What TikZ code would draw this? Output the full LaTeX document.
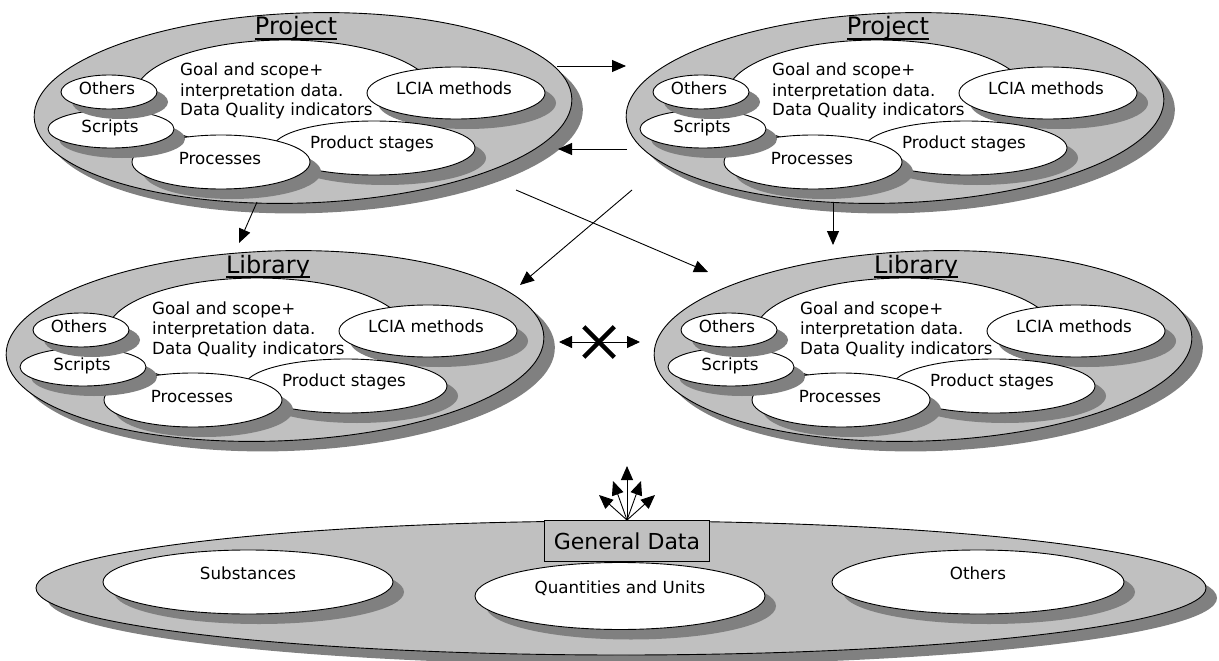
\documentclass[tikz,border=0pt]{standalone}
\usepackage{fontspec}
\setmainfont{DejaVu Sans}
\usetikzlibrary{shapes.geometric,shapes.misc,shadows,arrows.meta}
\definecolor{lgray}{HTML}{C0C0C0}
\definecolor{dgray}{HTML}{808080}
\tikzset{
  shad/.style={drop shadow={shadow xshift=11pt, shadow yshift=-10pt, opacity=1, fill=dgray}},
  outerell/.style={ellipse, draw=black, line width=0.9pt, fill=lgray, inner sep=0pt, shad},
  innerell/.style={ellipse, draw=black, line width=0.9pt, fill=white, inner sep=0pt, shad},
  lbl/.style={font=\fontsize{16.7}{20}\selectfont, inner sep=0pt},
  ttl/.style={font=\fontsize{24}{28}\selectfont, inner sep=0pt},
  arr/.style={-{Triangle[length=14pt,width=12pt]}, line width=0.9pt},
  darr/.style={{Triangle[length=13pt,width=12pt]}-{Triangle[length=13pt,width=12pt]}, line width=0.9pt},
}
\newcommand\lcagroup[4]{%
\begin{scope}[shift={(#2,#3)}]
  \node[outerell, minimum width=538pt, minimum height=190pt, rotate=2] (#1o) at (303,108) {};
  \node[innerell, minimum width=300pt, minimum height=110pt] (#1g) at (285,95) {};
  \node[innerell, minimum width=178pt, minimum height=52pt] (#1l) at (456,93) {};
  \node[innerell, minimum width=202pt, minimum height=54pt] (#1p) at (374,148) {};
  \node[innerell, minimum width=178pt, minimum height=54pt] (#1r) at (221,162) {};
  \node[innerell, minimum width=126pt, minimum height=38pt] (#1s) at (111,129) {};
  \node[innerell, minimum width=96pt, minimum height=34pt] (#1x) at (109,92) {};
  \node[ttl, anchor=base] (#1t) at (296,35) {#4};
  \draw[line width=1.2pt] ([yshift=-4pt]#1t.base west) -- ([yshift=-4pt]#1t.base east);
  \node[lbl] (#1xt) at (107,88) {Others};
  \node[lbl] (#1st) at (110,128) {Scripts};
  \node[lbl] (#1lt) at (454,88) {LCIA methods};
  \node[lbl] (#1pst) at (372,144) {Product stages};
  \node[lbl] (#1rt) at (220,159) {Processes};
  \node[lbl, anchor=base west] (#1ga) at (180,76) {Goal and scope+};
  \node[lbl, anchor=base west] (#1gb) at (180,96) {interpretation data.};
  \node[lbl, anchor=base west] (#1gc) at (180,116) {Data Quality indicators};
\end{scope}}
\begin{document}
\begin{tikzpicture}[x=1pt, y=-1pt]
\useasboundingbox (0,0) rectangle (1219,661);
\lcagroup{tl}{0}{0}{Project}
\lcagroup{tr}{592}{0}{Project}
\lcagroup{bl}{-28}{238}{Library}
\lcagroup{br}{620}{238}{Library}

% General data
\node[outerell, minimum width=1170pt, minimum height=134pt] (gdo) at (621,588) {};
\node[innerell, minimum width=290pt, minimum height=64pt] (gds) at (248,582) {};
\node[innerell, minimum width=290pt, minimum height=67pt] (gdq) at (620,596) {};
\node[innerell, minimum width=292pt, minimum height=64pt] (gdx) at (978,582) {};
\node[draw, fill=lgray, line width=0.9pt, minimum width=165pt, minimum height=41pt, inner sep=0pt,
      font=\fontsize{22}{26}\selectfont] (gdb) at (627,541) {General Data};
\node[lbl] (gdst) at (248,573) {Substances};
\node[lbl] (gdqt) at (620,588) {Quantities and Units};
\node[lbl] (gdxt) at (978,573) {Others};

% connectors
\coordinate (c1) at (557,66);  \coordinate (c2) at (626,66);
\coordinate (c3) at (627,149); \coordinate (c4) at (558,149);
\coordinate (c5) at (257,202); \coordinate (c6) at (239,243);
\coordinate (c7) at (833,202); \coordinate (c8) at (833,245);
\coordinate (c9) at (516,190); \coordinate (c10) at (708,272);
\coordinate (c11) at (632,190); \coordinate (c12) at (520,285);
\coordinate (c13) at (559,342); \coordinate (c14) at (640,342);
\draw[arr] (c1) -- (c2);
\draw[arr] (c3) -- (c4);
\draw[arr] (c5) -- (c6);
\draw[arr] (c7) -- (c8);
\draw[arr] (c9) -- (c10);
\draw[arr] (c11) -- (c12);
\draw[darr] (c13) -- (c14);
\node[cross out, draw, line width=4.5pt, minimum size=26pt, inner sep=0pt] (xm) at (599,342) {};

% burst
\coordinate (b1) at (627,466);
\coordinate (b2) at (613,481);
\coordinate (b3) at (641,481);
\coordinate (b4) at (599,495);
\coordinate (b5) at (655,495);
\draw[arr] (gdb.north) -- (b1);
\draw[arr] (gdb.north) -- (b2);
\draw[arr] (gdb.north) -- (b3);
\draw[arr] (gdb.north) -- (b4);
\draw[arr] (gdb.north) -- (b5);
\end{tikzpicture}
\end{document}
